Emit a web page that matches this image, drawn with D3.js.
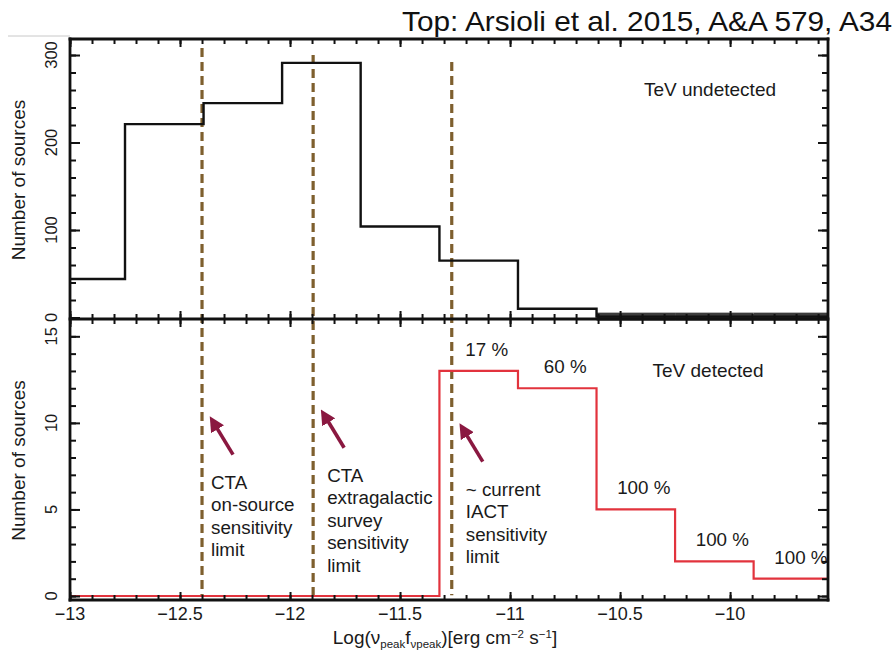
<!DOCTYPE html>
<html>
<head>
<meta charset="utf-8">
<script src="https://cdn.jsdelivr.net/npm/d3@7/dist/d3.min.js"></script>
<style>
  html, body { margin: 0; padding: 0; background: #fff; }
  svg { display: block; font-family: "Liberation Sans", Arial, Helvetica, sans-serif; }
</style>
</head>
<body>
<svg id="chart" width="896" height="653"></svg>
<script>
// Bin edges of log(nu_peak * f_nu_peak) [erg cm^-2 s^-1]
const binEdges = [-13.107, -12.75, -12.393, -12.036, -11.679, -11.321, -10.964, -10.607, -10.25, -9.893, -9.536];
// Counts per bin
const undetectedCounts = [44, 221, 245, 291, 104, 65, 10, 1, 1, 1];
const detectedCounts   = [0, 0, 0, 0, 0, 13, 12, 5, 2, 1];
// Fraction of sources detected at TeV, per bin
const detectedPercent  = ["", "", "", "", "", "17 %", "60 %", "100 %", "100 %", "100 %"];

// Sensitivity limits (vertical dashed lines) and where each starts in the top panel
const limitValues = [-12.4, -11.895, -11.265];
const limitTops   = [308, 300, 292];
const limitLabels = [
  ["CTA", "on-source", "sensitivity", "limit"],
  ["CTA", "extragalactic", "survey", "sensitivity", "limit"],
  ["~ current", "IACT", "sensitivity", "limit"]
];
// Label baseline of the first line in each block (bottom-panel counts)
const limitLabelTop = [6.2, 6.6, 5.8];

// Axis ticks
const xMajorTicks = [-13, -12.5, -12, -11.5, -11, -10.5, -10];
const xMinorTicks = d3.range(-13, -9.5, 0.1).map(v => +v.toFixed(1));
const topMajorTicks = [0, 100, 200, 300];
const topMinorTicks = d3.range(0, 320, 20);
const botMajorTicks = [0, 5, 10, 15];
const botMinorTicks = d3.range(0, 17, 1);

const svg = d3.select("#chart");
const L = 70, R = 828, T1 = 39, M = 319, B2 = 600;
const NOTE = 18.8;

const x = d3.scaleLinear().domain([-13, -9.555]).range([L, R]);
const yTop = d3.scaleLinear().domain([-1.7, 318.3]).range([M, T1]);
const yBot = d3.scaleLinear().domain([-0.23, 16]).range([B2, M]);

svg.append("defs").append("clipPath").attr("id", "plotclip")
  .append("rect").attr("x", L).attr("y", T1).attr("width", R - L).attr("height", B2 - T1);

svg.append("defs").append("marker")
  .attr("id", "head").attr("viewBox", "0 0 10 10").attr("refX", 2).attr("refY", 5)
  .attr("markerWidth", 4.2).attr("markerHeight", 4.2).attr("orient", "auto")
  .append("path").attr("d", "M0,0 L10,5 L0,10 Z").attr("fill", "#8a1840");

// faint rule at the top left
svg.append("line").attr("x1", 8).attr("x2", L).attr("y1", 36).attr("y2", 36)
  .attr("stroke", "#c8c8c8").attr("stroke-width", 1);

// Caption
svg.append("text").attr("x", 892).attr("y", 31).attr("text-anchor", "end")
  .attr("font-size", 28).attr("textLength", 490).attr("lengthAdjust", "spacingAndGlyphs")
  .attr("fill", "#111")
  .text("Top: Arsioli et al. 2015, A&A 579, A34");

const plot = svg.append("g").attr("clip-path", "url(#plotclip)");

function stepPoints(counts, y) {
  const pts = [];
  counts.forEach((c, i) => {
    pts.push([x(binEdges[i]), y(c)]);
    pts.push([x(binEdges[i + 1]), y(c)]);
  });
  return pts;
}
const line = d3.line();

// Sensitivity limits
limitValues.forEach((v, i) => {
  plot.append("line")
    .attr("x1", x(v)).attr("x2", x(v))
    .attr("y1", yTop(limitTops[i])).attr("y2", yBot(0.05))
    .attr("stroke", "#7e5f2e").attr("stroke-width", 3.2)
    .attr("stroke-dasharray", "9,5");
});

// Top panel: TeV undetected
const tail = undetectedCounts.map((c, i) => ({ c, i })).filter(d => d.c <= 2);
plot.selectAll("rect.tail").data(tail).enter().append("rect").attr("class", "tail")
  .attr("x", d => x(binEdges[d.i])).attr("width", d => x(binEdges[d.i + 1]) - x(binEdges[d.i]))
  .attr("y", d => yTop(d.c) - 4).attr("height", 8).attr("fill", "#3c3c3c");
plot.append("path").attr("d", line(stepPoints(undetectedCounts, yTop)))
  .attr("fill", "none").attr("stroke", "#111").attr("stroke-width", 2.4);

// Bottom panel: TeV detected
plot.append("path").attr("d", line(stepPoints(detectedCounts, yBot)))
  .attr("fill", "none").attr("stroke", "#e2333d").attr("stroke-width", 2.2);

// Percent labels
detectedCounts.forEach((c, i) => {
  if (!detectedPercent[i]) return;
  svg.append("text")
    .attr("x", (x(binEdges[i]) + x(binEdges[i + 1])) / 2 + 8)
    .attr("y", yBot(c) - 15)
    .attr("text-anchor", "middle").attr("font-size", NOTE).attr("fill", "#1a1a1a")
    .text(detectedPercent[i]);
});

// Limit annotations: arrow + text
limitValues.forEach((v, i) => {
  const x0 = x(v);
  const yb = yBot(limitLabelTop[i]);
  const tipY = yb - 70, tailY = yb - 34;
  svg.append("line")
    .attr("x1", x0 + 31).attr("y1", tailY)
    .attr("x2", x0 + 14).attr("y2", tipY + 8)
    .attr("stroke", "#8a1840").attr("stroke-width", 3.6)
    .attr("marker-end", "url(#head)");
  const t = svg.append("text").attr("font-size", NOTE).attr("fill", "#1a1a1a");
  limitLabels[i].forEach((s, k) => {
    t.append("tspan").attr("x", x0 + (i === 0 ? 9 : 14)).attr("y", yb + k * 22.5).text(s);
  });
});

// Panel titles
svg.append("text").attr("x", 710).attr("y", 96).attr("text-anchor", "middle")
  .attr("font-size", 19).attr("fill", "#1a1a1a").text("TeV undetected");
svg.append("text").attr("x", 708).attr("y", 377).attr("text-anchor", "middle")
  .attr("font-size", 19).attr("fill", "#1a1a1a").text("TeV detected");

// Axes and ticks
const axes = svg.append("g");
function ticks(axisFn, scale, values, size, transform) {
  const g = axes.append("g").attr("transform", transform)
    .call(axisFn(scale).tickValues(values).tickSize(size).tickFormat(""));
  g.select(".domain").remove();
  g.selectAll(".tick line").attr("stroke", "#111").attr("stroke-width", 2);
  return g;
}
// x ticks: bottom of bottom panel (inward), both sides of the shared line, top of top panel
ticks(d3.axisBottom, x, xMinorTicks, -5, `translate(0,${B2})`);
ticks(d3.axisBottom, x, xMajorTicks, -8, `translate(0,${B2})`);
ticks(d3.axisBottom, x, xMinorTicks, 5, `translate(0,${M - 5})`);
ticks(d3.axisBottom, x, xMajorTicks, 8, `translate(0,${M - 8})`);
ticks(d3.axisBottom, x, xMinorTicks, 5, `translate(0,${M})`);
ticks(d3.axisBottom, x, xMajorTicks, 8, `translate(0,${M})`);
ticks(d3.axisBottom, x, xMinorTicks, 5, `translate(0,${T1})`);
ticks(d3.axisBottom, x, xMajorTicks, 8, `translate(0,${T1})`);
// y ticks: inward on left and right
ticks(d3.axisLeft, yTop, topMinorTicks, -6, `translate(${L},0)`);
ticks(d3.axisLeft, yTop, topMajorTicks, -10, `translate(${L},0)`);
ticks(d3.axisRight, yTop, topMinorTicks, -6, `translate(${R},0)`);
ticks(d3.axisRight, yTop, topMajorTicks, -10, `translate(${R},0)`);
ticks(d3.axisLeft, yBot, botMinorTicks.filter(v => yBot(v) > M + 2), -6, `translate(${L},0)`);
ticks(d3.axisLeft, yBot, botMajorTicks, -10, `translate(${L},0)`);
ticks(d3.axisRight, yBot, botMinorTicks.filter(v => yBot(v) > M + 2), -6, `translate(${R},0)`);
ticks(d3.axisRight, yBot, botMajorTicks, -10, `translate(${R},0)`);

// Frame lines
[[L, T1, R, T1], [L, M, R, M], [L, B2, R, B2], [L, T1, L, B2], [R, T1, R, B2]].forEach(d => {
  axes.append("line").attr("x1", d[0]).attr("y1", d[1]).attr("x2", d[2]).attr("y2", d[3])
    .attr("stroke", "#111").attr("stroke-width", 2.8).attr("stroke-linecap", "square");
});

// Tick labels
const fmt = v => String(v).replace("-", "\u2212");
xMajorTicks.forEach(v => {
  svg.append("text").attr("x", x(v)).attr("y", 620).attr("text-anchor", "middle")
    .attr("font-size", 18).attr("fill", "#1a1a1a").text(fmt(v));
});
function yLabels(scale, values) {
  values.forEach(v => {
    svg.append("text").attr("transform", `translate(57,${scale(v)}) rotate(-90)`)
      .attr("text-anchor", "middle").attr("font-size", 16.5).attr("fill", "#1a1a1a").text(v);
  });
}
yLabels(yTop, topMajorTicks);
yLabels(yBot, botMajorTicks);

// Axis titles
[[T1, M], [M, B2]].forEach(([a, b]) => {
  svg.append("text").attr("transform", `translate(25,${(a + b) / 2 + 1}) rotate(-90)`)
    .attr("text-anchor", "middle").attr("font-size", 19).attr("fill", "#1a1a1a")
    .text("Number of sources");
});

const xt = svg.append("text").attr("x", 445).attr("y", 644).attr("text-anchor", "middle")
  .attr("font-size", 19).attr("fill", "#1a1a1a");
xt.append("tspan").text("Log(\u03bd");
xt.append("tspan").attr("font-size", 11.5).attr("dy", 4).text("peak");
xt.append("tspan").attr("dy", -4).text("f");
xt.append("tspan").attr("font-size", 11.5).attr("dy", 4).text("\u03bdpeak");
xt.append("tspan").attr("dy", -4).text(")[erg cm");
xt.append("tspan").attr("font-size", 11.5).attr("dy", -6).text("\u22122");
xt.append("tspan").attr("dy", 6).text(" s");
xt.append("tspan").attr("font-size", 11.5).attr("dy", -6).text("\u22121");
xt.append("tspan").attr("dy", 6).text("]");
</script>
</body>
</html>
